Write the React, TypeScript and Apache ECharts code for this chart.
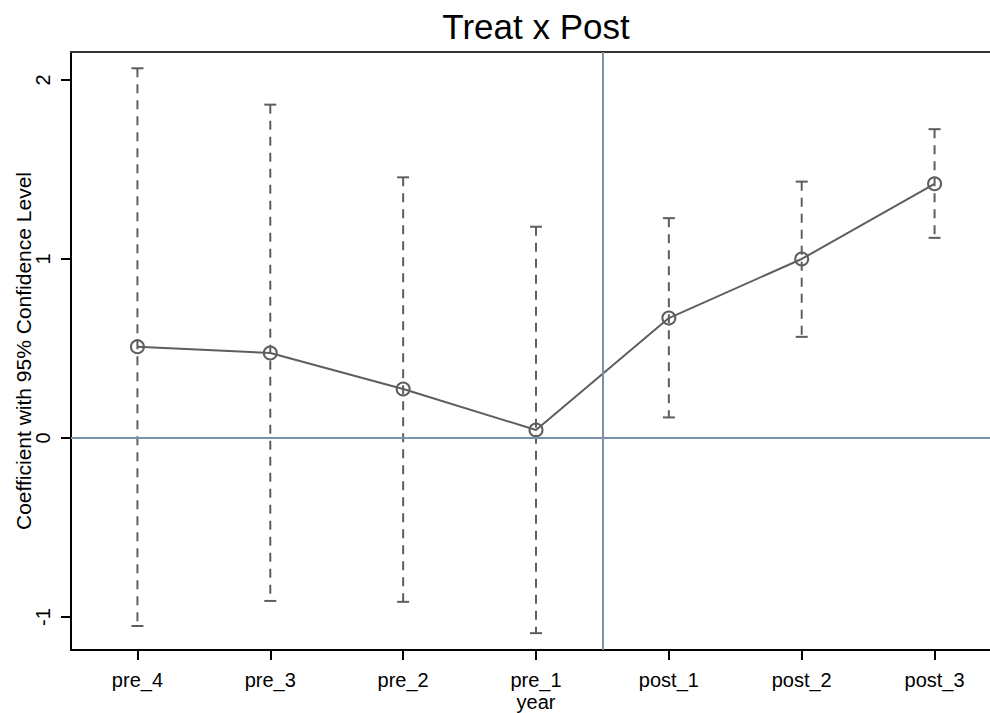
import React, { useEffect, useRef } from "react";
import * as echarts from "echarts";

const categories = ["pre_4", "pre_3", "pre_2", "pre_1", "post_1", "post_2", "post_3"];
const coefficients = [0.51, 0.475, 0.274, 0.045, 0.67, 1.0, 1.42];
const lowerCI = [-1.05, -0.91, -0.915, -1.09, 0.115, 0.565, 1.118];
const upperCI = [2.065, 1.862, 1.456, 1.18, 1.228, 1.432, 1.725];
const yTicks = [-1, 0, 1, 2];
const xTicks = [0, 1, 2, 3, 4, 5, 6];
const eventLine = 3.5;

const GRAY = "#5e5e5e";
const REF = "#7a91a8";
const FONT = "Liberation Sans, Arial, sans-serif";

export default function App() {
  const ref = useRef<HTMLDivElement>(null);
  useEffect(() => {
    if (!ref.current) return;
    const chart = echarts.init(ref.current, undefined, { renderer: "svg" });
    const pointData = coefficients.map((v, i) => [i, v]);
    const ciData = categories.map((_, i) => [i, lowerCI[i], upperCI[i]]);
    chart.setOption({
      animation: false,
      backgroundColor: "#ffffff",
      textStyle: { fontFamily: FONT },
      title: {
        text: "Treat x Post",
        left: 536,
        top: 9,
        padding: 0,
        textAlign: "center",
        textStyle: { fontFamily: FONT, fontSize: 35, fontWeight: "normal", color: "#000" },
      },
      grid: { left: 71, right: -11, top: 52, bottom: 63, outerBoundsMode: "none", containLabel: false },
      xAxis: [
        {
          type: "value",
          min: -0.5,
          max: 6.5,
          name: "year",
          nameLocation: "middle",
          nameGap: 42,
          nameMoveOverlap: false,
          nameTextStyle: { fontSize: 20, color: "#000", fontFamily: FONT, lineHeight: 20 },
          splitLine: { show: false },
          axisLine: { show: true, onZero: false, lineStyle: { color: "#000", width: 2 } },
          axisTick: { show: true, customValues: xTicks, length: 10, lineStyle: { color: "#000", width: 2 } },
          axisLabel: {
            customValues: xTicks,
            formatter: (v: number) => categories[Math.round(v)] ?? "",
            fontSize: 20,
            lineHeight: 20,
            color: "#000",
            margin: 20,
            fontFamily: FONT,
          },
        },
        {
          type: "value",
          position: "top",
          min: -0.5,
          max: 6.5,
          splitLine: { show: false },
          axisLine: { show: true, onZero: false, lineStyle: { color: "#333", width: 2 } },
          axisTick: { show: false },
          axisLabel: { show: false },
        },
      ],
      yAxis: {
        type: "value",
        min: -1.184,
        max: 2.156,
        name: "Coefficient with 95% Confidence Level",
        nameLocation: "middle",
        nameGap: 37,
        nameMoveOverlap: false,
        nameTextStyle: { fontSize: 21, color: "#000", fontFamily: FONT },
        splitLine: { show: false },
        axisLine: { show: true, onZero: false, lineStyle: { color: "#000", width: 2 } },
        axisTick: { show: true, customValues: yTicks, length: 10, lineStyle: { color: "#000", width: 2 } },
        axisLabel: {
          customValues: yTicks,
          rotate: 90,
          fontSize: 20,
          color: "#000",
          margin: 18,
          fontFamily: FONT,
        },
      },
      series: [
        {
          type: "custom",
          name: "CI",
          z: 3,
          data: ciData,
          encode: { x: 0, y: [1, 2] },
          renderItem: (params: any, api: any) => {
            const x = api.value(0);
            const lo = api.coord([x, api.value(1)]);
            const hi = api.coord([x, api.value(2)]);
            const hw = 6;
            const style = { stroke: GRAY, lineWidth: 2 };
            return {
              type: "group",
              children: [
                {
                  type: "line",
                  shape: { x1: hi[0], y1: hi[1], x2: lo[0], y2: lo[1] },
                  style: { ...style, lineDash: [9, 7] },
                },
                { type: "line", shape: { x1: hi[0] - hw, y1: hi[1], x2: hi[0] + hw, y2: hi[1] }, style },
                { type: "line", shape: { x1: lo[0] - hw, y1: lo[1], x2: lo[0] + hw, y2: lo[1] }, style },
              ],
            };
          },
        },
        {
          type: "line",
          name: "Coefficient",
          z: 4,
          data: pointData,
          symbol: "circle",
          symbolSize: 13,
          itemStyle: { color: "rgba(255,255,255,0)", borderColor: GRAY, borderWidth: 2 },
          lineStyle: { color: GRAY, width: 2 },
          markLine: {
            silent: true,
            symbol: "none",
            label: { show: false },
            lineStyle: { color: REF, width: 2, type: "solid" },
            data: [{ yAxis: 0 }, { xAxis: eventLine }],
          },
        },
      ],
    });
    return () => chart.dispose();
  }, []);
  return (
    <div
      ref={ref}
      style={{ position: "fixed", left: 0, top: 0, width: 990, height: 713, background: "#fff" }}
    />
  );
}
